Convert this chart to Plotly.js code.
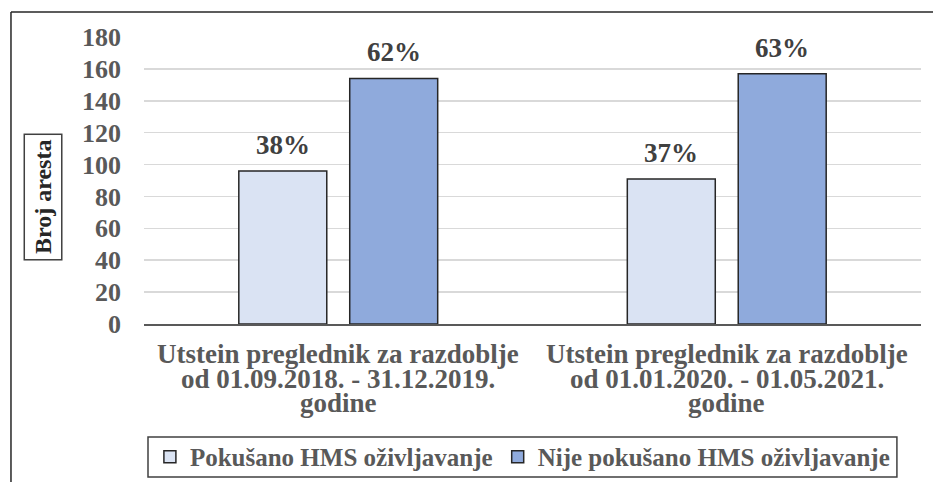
<!DOCTYPE html>
<html>
<head>
<meta charset="utf-8">
<script src="https://cdn.plot.ly/plotly-3.0.1.min.js"></script>
<style>html,body{margin:0;padding:0;background:#fff;}#chart{width:933px;height:482px;}</style>
</head>
<body>
<div id="chart"></div>
<script>
// ---- data ----
const categories = [
  'Utstein preglednik za razdoblje od 01.09.2018. - 31.12.2019. godine',
  'Utstein preglednik za razdoblje od 01.01.2020. - 01.05.2021. godine'
];
const categoryLines = [
  ['Utstein preglednik za razdoblje', 'od 01.09.2018. - 31.12.2019.', 'godine'],
  ['Utstein preglednik za razdoblje', 'od 01.01.2020. - 01.05.2021.', 'godine']
];
const seriesNames = ['Pokušano HMS oživljavanje', 'Nije pokušano HMS oživljavanje'];
const attemptedValues = [96, 91];
const notAttemptedValues = [154, 157];
const attemptedLabels = ['38%', '37%'];
const notAttemptedLabels = ['62%', '63%'];
const yTickValues = [0, 20, 40, 60, 80, 100, 120, 140, 160, 180];
const yAxisTitle = 'Broj aresta';

// ---- styles ----
const FONT = "'Liberation Serif', 'Times New Roman', Times, serif";
const GRAY = '#595959';
const DARK = '#404040';
const W = 933, H = 482;
const MARGIN = {l: 144, r: 12, t: 37, b: 158};
const BARGAP = 0.429, BARGROUPGAP = 0.207;

const traces = [
  {
    type: 'bar', name: seriesNames[0], x: categories, y: attemptedValues,
    marker: {color: '#dae3f3', line: {color: '#262626', width: 1.5}},
    hoverinfo: 'none'
  },
  {
    type: 'bar', name: seriesNames[1], x: categories, y: notAttemptedValues,
    marker: {color: '#8faadc', line: {color: '#262626', width: 1.5}},
    hoverinfo: 'none'
  }
];

const annotations = [];

// percentage labels above each bar (offset to the bar's slot inside the group)
const plotW = W - MARGIN.l - MARGIN.r;
const slotPx = plotW / categories.length * (1 - BARGAP) / 2;
const seriesVals = [attemptedValues, notAttemptedValues];
const seriesLabels = [attemptedLabels, notAttemptedLabels];
seriesVals.forEach((vals, s) => {
  const shift = (s - 0.5) * slotPx;
  vals.forEach((v, i) => {
    annotations.push({
      xref: 'x', yref: 'y', x: categories[i], y: v, xshift: shift, yshift: 9,
      xanchor: 'center', yanchor: 'bottom', showarrow: false,
      text: seriesLabels[s][i],
      font: {family: FONT, size: 27, weight: 'bold', color: DARK}
    });
  });
});

// category labels as separate lines (tight line spacing like the original)
const lineCenters = [-0.106, -0.191, -0.276];
categories.forEach((c, i) => {
  categoryLines[i].forEach((t, j) => {
    annotations.push({
      xref: 'x', yref: 'paper', x: c, y: lineCenters[j],
      xanchor: 'center', yanchor: 'middle', showarrow: false, text: t,
      font: {family: FONT, size: 27, weight: 'bold', color: GRAY}
    });
  });
});
annotations.push({
  xref: 'paper', yref: 'paper', x: -0.1306, y: 0.4425,
  xanchor: 'center', yanchor: 'middle', showarrow: false,
  text: yAxisTitle, textangle: -90,
  font: {family: FONT, size: 24, weight: 'bold', color: '#262626'},
  bordercolor: '#404040', borderwidth: 1.5, borderpad: 5
});

const layout = {
  width: W, height: H,
  font: {family: FONT},
  margin: Object.assign({autoexpand: false}, MARGIN),
  paper_bgcolor: '#ffffff', plot_bgcolor: '#ffffff',
  barmode: 'group', bargap: BARGAP, bargroupgap: BARGROUPGAP,
  showlegend: true,
  legend: {
    orientation: 'h', x: 0.487, xanchor: 'center', y: -0.4634, yanchor: 'middle',
    font: {family: FONT, size: 25, weight: 'bold', color: GRAY},
    borderwidth: 0, bgcolor: 'rgba(0,0,0,0)',
    traceorder: 'normal'
  },
  xaxis: {
    type: 'category', showticklabels: false, showgrid: false,
    showline: true, linecolor: GRAY, linewidth: 1.5, fixedrange: true
  },
  yaxis: {
    range: [0, 180], tickvals: yTickValues, showgrid: true,
    gridcolor: '#d9d9d9', gridwidth: 1.5, zeroline: false, showline: false,
    ticklabelstandoff: 22,
    tickfont: {family: FONT, size: 26, weight: 'bold', color: GRAY}, fixedrange: true
  },
  annotations: annotations,
  shapes: [
    {type: 'line', xref: 'paper', yref: 'paper', x0: -0.1712, x1: -0.1712, y0: 1.0871, y1: -0.6,
     line: {color: '#262626', width: 1.5}},
    {type: 'line', xref: 'paper', yref: 'paper', x0: -0.1712, x1: 1.05, y0: 1.0871, y1: 1.0871,
     line: {color: '#262626', width: 1.5}},
    // legend frame
    {type: 'rect', xref: 'paper', yref: 'paper', x0: 0.00515, x1: 0.969, y0: -0.5331, y1: -0.3937,
     line: {color: '#404040', width: 1.5}, fillcolor: 'rgba(0,0,0,0)'}
  ]
};

Plotly.newPlot('chart', traces, layout, {displayModeBar: false, staticPlot: true});
</script>
</body>
</html>
